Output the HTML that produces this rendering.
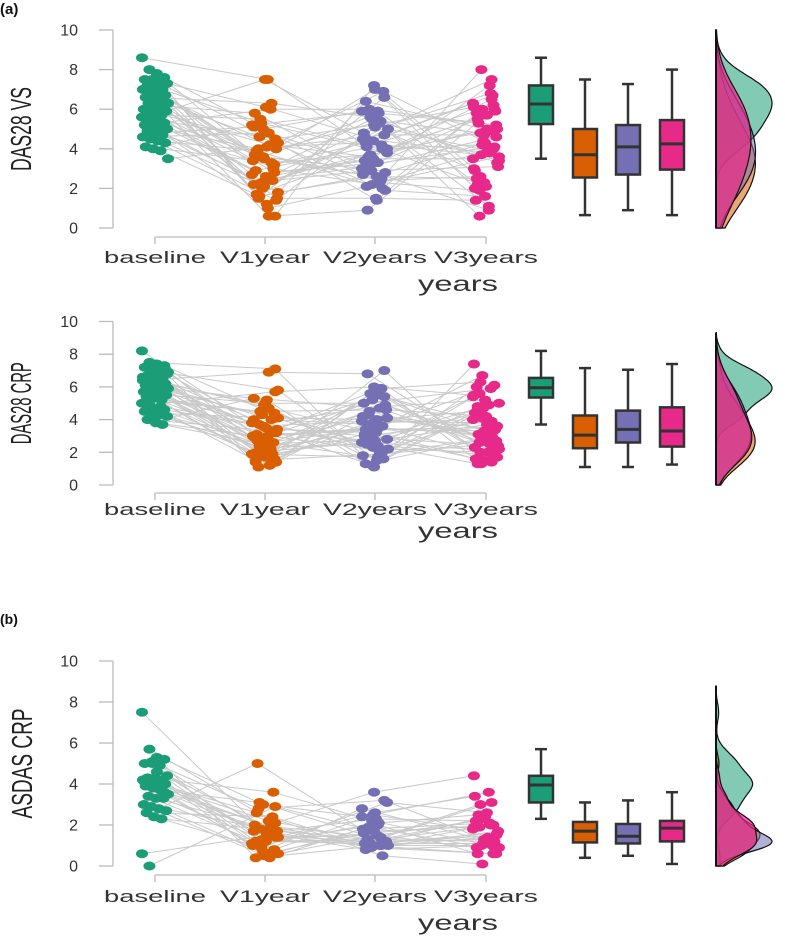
<!DOCTYPE html>
<html><head><meta charset="utf-8">
<style>
html,body{margin:0;padding:0;background:#fff;}
svg{display:block;font-family:"Liberation Sans",sans-serif;}
</style></head>
<body>
<svg id="chart" width="785" height="938" viewBox="0 0 785 938" xmlns="http://www.w3.org/2000/svg">
<text x="0" y="14" font-size="15" font-weight="bold" fill="#111">(a)</text>
<text x="0" y="624" font-size="14" font-weight="bold" fill="#111">(b)</text>
</svg>
<script>
const categories = ["baseline","V1year","V2years","V3years"];
const colors = ["#1b9e77","#d95f02","#7570b3","#e7298a"];
const yTicks = [0,2,4,6,8,10];

// Panel 1: DAS28 VS
const vsBaseline = [8.6,8.0,7.8,7.6,7.5,7.5,7.4,7.3,7.2,7.1,7.0,7.0,6.9,6.8,6.7,6.6,6.5,6.4,6.3,6.3,6.2,6.1,6.0,6.0,6.0,5.9,5.9,5.8,5.7,5.6,5.5,5.4,5.3,5.2,5.1,5.0,5.0,4.9,4.8,4.7,4.6,4.5,4.4,4.3,4.1,4.0,3.9,3.5,6.6,7.0];
const vsV1 = [7.5,0.6,3.7,5.0,2.5,4.3,1.5,6.1,3.0,2.2,5.3,0.6,4.0,1.7,3.5,6.3,2.7,4.6,1.2,3.2,5.8,2.0,4.2,1.5,3.8,7.5,2.4,3.4,5.5,1.0,4.5,2.9,3.6,6.0,1.8,4.0,2.6,3.1,5.1,2.3,4.8,1.4,3.9,2.1,3.3,5.2,1.6,4.1,2.8,3.7];
const vsV2 = [4.1,7.2,2.5,5.9,3.1,1.4,6.6,4.6,2.2,5.3,3.8,0.9,7.0,4.0,2.7,5.6,3.3,1.9,6.4,4.4,2.4,5.0,3.6,1.5,6.9,4.8,2.9,5.8,3.9,2.1,5.2,4.2,3.0,6.0,2.6,4.7,3.4,5.5,2.3,4.0,3.2,5.1,2.0,4.5,3.7,5.9,2.8,4.3,3.5,5.4];
const vsV3 = [6.2,3.0,8.0,1.1,4.6,5.8,2.3,7.5,3.6,0.6,5.0,6.0,2.0,4.2,7.2,3.3,5.5,1.6,4.9,6.3,2.6,3.9,5.9,1.4,4.4,6.8,3.1,5.3,2.1,4.0,6.1,3.7,0.9,5.2,2.5,4.7,6.5,3.4,1.9,5.7,4.1,2.9,6.0,3.8,5.0,2.2,4.3,6.7,3.5,4.8];
// box stats: [low, q1, median, q3, high]
const vsBox = [[3.5,5.25,6.26,7.2,8.6],[0.65,2.55,3.7,5.0,7.5],[0.9,2.7,4.1,5.2,7.27],[0.65,2.95,4.25,5.45,8.0]];

// Panel 2: DAS28 CRP
const crpBaseline = [8.2,7.5,7.4,7.3,7.2,7.0,6.9,6.8,6.7,6.6,6.5,6.4,6.3,6.2,6.2,6.1,6.0,6.0,5.9,5.9,5.8,5.8,5.7,5.6,5.5,5.5,5.4,5.3,5.2,5.0,4.9,4.7,4.6,4.5,4.4,4.3,4.2,4.0,3.9,3.7,6.6,6.0,5.6,7.1,6.3,5.4,4.8,6.9,5.2,3.8];
const crpV1 = [3.0,7.1,1.4,4.6,2.2,5.8,1.1,3.5,2.6,4.0,1.8,6.9,3.2,2.0,4.9,1.3,3.8,2.4,5.2,1.6,2.9,4.3,1.2,3.4,2.7,5.0,1.9,3.0,4.5,2.3,5.7,1.5,3.6,2.1,4.1,2.8,1.7,3.3,5.3,2.5,4.7,1.4,3.1,2.2,4.0,1.9,3.7,2.6,4.4,3.0];
const crpV2 = [3.4,1.1,5.9,2.6,4.5,1.5,7.0,3.0,5.2,2.0,4.1,6.8,2.7,3.6,1.8,5.6,2.4,4.8,1.3,3.8,5.9,2.2,4.3,3.2,1.6,5.0,2.9,3.5,4.6,2.5,6.0,1.9,3.9,2.6,4.0,5.4,3.1,1.2,4.7,2.8,3.3,5.8,2.1,4.2,3.7,1.7,4.9,3.4,2.3,5.5];
const crpV3 = [3.3,7.4,1.3,4.9,2.7,6.0,1.5,3.9,2.2,5.6,3.0,1.9,4.4,6.7,2.5,3.6,1.3,5.2,2.9,4.0,6.3,2.0,3.4,1.6,4.7,5.9,2.4,3.1,4.2,1.8,5.5,2.8,3.8,2.1,4.5,3.3,1.4,5.0,2.6,3.7,6.1,2.3,4.1,3.2,1.7,4.8,2.9,3.5,5.4,2.0];
const crpBox = [[3.7,5.35,5.95,6.55,8.2],[1.1,2.25,3.05,4.25,7.15],[1.1,2.6,3.4,4.55,7.05],[1.25,2.35,3.3,4.75,7.4]];

// Panel 3: ASDAS CRP
const asBaseline = [7.5,5.7,5.3,5.2,5.0,5.0,4.9,4.4,4.3,4.3,4.2,4.2,4.1,4.0,4.0,3.9,3.8,3.7,3.5,3.4,3.3,3.3,3.0,2.9,2.8,2.7,2.6,2.4,2.3,0.6,0.0,4.6,3.6,4.1,5.1];
const asV1 = [1.5,2.1,0.4,3.0,1.8,0.6,2.8,1.2,3.6,1.7,0.9,2.2,1.4,2.6,0.5,1.9,1.1,3.1,1.6,0.8,2.0,1.3,0.4,1.7,5.0,0.6,2.4,1.0,1.8,1.5,2.9,1.2,0.7,1.9,1.4];
const asV2 = [1.2,3.6,1.0,2.4,0.9,1.5,3.2,1.1,2.2,1.0,3.1,1.3,2.6,0.5,1.8,1.1,2.0,1.2,0.8,2.5,1.4,1.0,1.9,2.3,1.1,1.6,0.9,2.1,1.2,1.0,1.7,1.3,2.8,1.1,1.5];
const asV3 = [2.0,4.4,1.0,3.6,0.6,2.2,1.3,3.1,0.9,1.9,2.6,1.2,3.4,0.1,2.1,1.6,0.6,2.4,1.0,1.8,3.0,1.4,0.8,2.2,1.1,2.0,1.7,2.5,1.3,0.6,1.9,2.3,1.2,1.5,0.9];
const asBox = [[2.3,3.1,3.95,4.4,5.7],[0.4,1.15,1.7,2.15,3.1],[0.5,1.1,1.45,2.05,3.2],[0.1,1.2,1.85,2.2,3.6]];

const NS = "http://www.w3.org/2000/svg";
const svg = document.getElementById("chart");
function mk(tag, attrs, parent){
  const e = document.createElementNS(NS, tag);
  for (const k in attrs) e.setAttribute(k, attrs[k]);
  (parent||svg).appendChild(e);
  return e;
}

const panels = [
  {title:"DAS28 VS", series:[vsBaseline,vsV1,vsV2,vsV3], box:vsBox, y0:228, y10:30, axisY:237, labY:263, yrsY:291, titleX:31, bw:0.6, bwO:1.1, densTop:10, titleLen:84},
  {title:"DAS28 CRP", series:[crpBaseline,crpV1,crpV2,crpV3], box:crpBox, y0:485, y10:321.5, axisY:493, labY:515, yrsY:538, titleX:31, bw:0.5, bwO:0.9, densTop:9.3, titleLen:82},
  {title:"ASDAS CRP", series:[asBaseline,asV1,asV2,asV3], box:asBox, y0:866, y10:661, axisY:875, labY:902, yrsY:930, titleX:32, bw:0.45, bwO:0.4, densTop:8.8, titleLen:110}
];
const catX = [155,265,375,486];
const boxX = [541,585,628,672];
const densX = 716;

function kde(arr, v, bw){
  let s=0; for(const a of arr){const z=(v-a)/bw; s+=Math.exp(-0.5*z*z);}
  return s/(arr.length*bw*Math.sqrt(2*Math.PI));
}

panels.forEach((p, pi) => {
  const g = mk("g", {});
  
  
  const yS = v => p.y0 + (p.y10 - p.y0) * v / 10;

  const ya = mk("g", {}, g);
  
  
  mk("line", {x1:113,x2:113,y1:yS(10),y2:yS(0),stroke:"#bbb","stroke-width":1.3}, ya);
  yTicks.forEach(t => {
    mk("line", {x1:99,x2:113,y1:yS(t),y2:yS(t),stroke:"#bbb","stroke-width":1.3}, ya);
    const tx = mk("text", {x:78,y:yS(t)+5.5,"text-anchor":"end","font-size":16,fill:"#333"}, ya);
    
    
    tx.textContent = t;
  });
  const ttl = mk("text", {transform:`translate(${p.titleX},${(yS(10)+yS(0))/2}) rotate(-90)`,"text-anchor":"middle","font-size":29,fill:"#222",textLength:p.titleLen,lengthAdjust:"spacingAndGlyphs"}, g);
  
  
  ttl.textContent = p.title;

  const xa = mk("g", {}, g);
  
  
  mk("line", {x1:catX[0],x2:catX[3],y1:p.axisY,y2:p.axisY,stroke:"#bbb","stroke-width":1.3}, xa);
  categories.forEach((c,i) => {
    mk("line", {x1:catX[i],x2:catX[i],y1:p.axisY,y2:p.axisY+7,stroke:"#bbb","stroke-width":1.3}, xa);
    const t = mk("text", {x:catX[i],y:p.labY,"text-anchor":"middle","font-size":17,fill:"#333",textLength:(i==0?102:(i==1?90:104)),lengthAdjust:"spacingAndGlyphs"}, xa);
    
    
    t.textContent = c;
  });
  const yr = mk("text", {x:458,y:p.yrsY,"text-anchor":"middle","font-size":21,fill:"#333",textLength:80,lengthAdjust:"spacingAndGlyphs"}, g);
  
  
  yr.textContent = "years";

  const jit = (i, k) => ((((i*37 + k*17) % 29) / 28) - 0.5) * 26;
  const n = p.series[0].length;
  const lg = mk("g", {}, g);
  
  
  for (let i=0;i<n;i++){
    let d = "";
    for (let k=0;k<4;k++){
      d += (k?"L":"M") + (catX[k]+jit(i,k)).toFixed(1) + "," + yS(p.series[k][i]).toFixed(1);
    }
    const pl = mk("path", {d, fill:"none", stroke:"#c9c9c9","stroke-width":1}, lg);
    
    
  }
  for (let k=0;k<4;k++){
    const dg = mk("g", {}, g);
    
    
    p.series[k].forEach((v,i) => {
      const e = mk("ellipse", {cx:catX[k]+jit(i,k), cy:yS(v), rx:6, ry:4.5, fill:colors[k]}, dg);
      
      
    });
  }

  p.box.forEach((b,k) => {
    const bg = mk("g", {}, g);
    
    
    const x = boxX[k];
    mk("line", {x1:x,x2:x,y1:yS(b[0]),y2:yS(b[4]),stroke:"#333","stroke-width":2.5}, bg);
    mk("line", {x1:x-6,x2:x+6,y1:yS(b[0]),y2:yS(b[0]),stroke:"#333","stroke-width":2.5}, bg);
    mk("line", {x1:x-6,x2:x+6,y1:yS(b[4]),y2:yS(b[4]),stroke:"#333","stroke-width":2.5}, bg);
    mk("rect", {x:x-12,y:yS(b[3]),width:24,height:yS(b[1])-yS(b[3]),fill:colors[k],stroke:"#333","stroke-width":2.5}, bg);
    mk("line", {x1:x-12,x2:x+12,y1:yS(b[2]),y2:yS(b[2]),stroke:"#333","stroke-width":3}, bg);
  });

  const steps = 120;
  const dens = p.series.map((arr,k) => {
    const bw = k===0 ? p.bw : p.bwO;
    const out=[]; for(let s=0;s<=steps;s++){const v=p.densTop*s/steps; out.push([v,kde(arr,v,bw)]);} return out;
  });
  let mx = 0; dens.forEach(d=>d.forEach(q=>{if(q[1]>mx)mx=q[1];}));
  const dg = mk("g", {}, g);
  
  
  const op = [0.55,0.55,0.55,0.72];
  dens.forEach((d,k) => {
    let path = `M${densX},${yS(p.densTop)}`;
    d.slice().reverse().forEach(q => { path += `L${(densX + q[1]/mx*56).toFixed(1)},${yS(q[0]).toFixed(1)}`; });
    path += `L${densX},${yS(0)}Z`;
    const e = mk("path", {d:path, fill:colors[k], "fill-opacity":op[k], stroke:"#111","stroke-width":1.2}, dg);
    
    
  });
  mk("line", {x1:densX,x2:densX,y1:yS(p.densTop),y2:yS(0),stroke:"#111","stroke-width":2}, dg);
});
</script>
</body></html>
